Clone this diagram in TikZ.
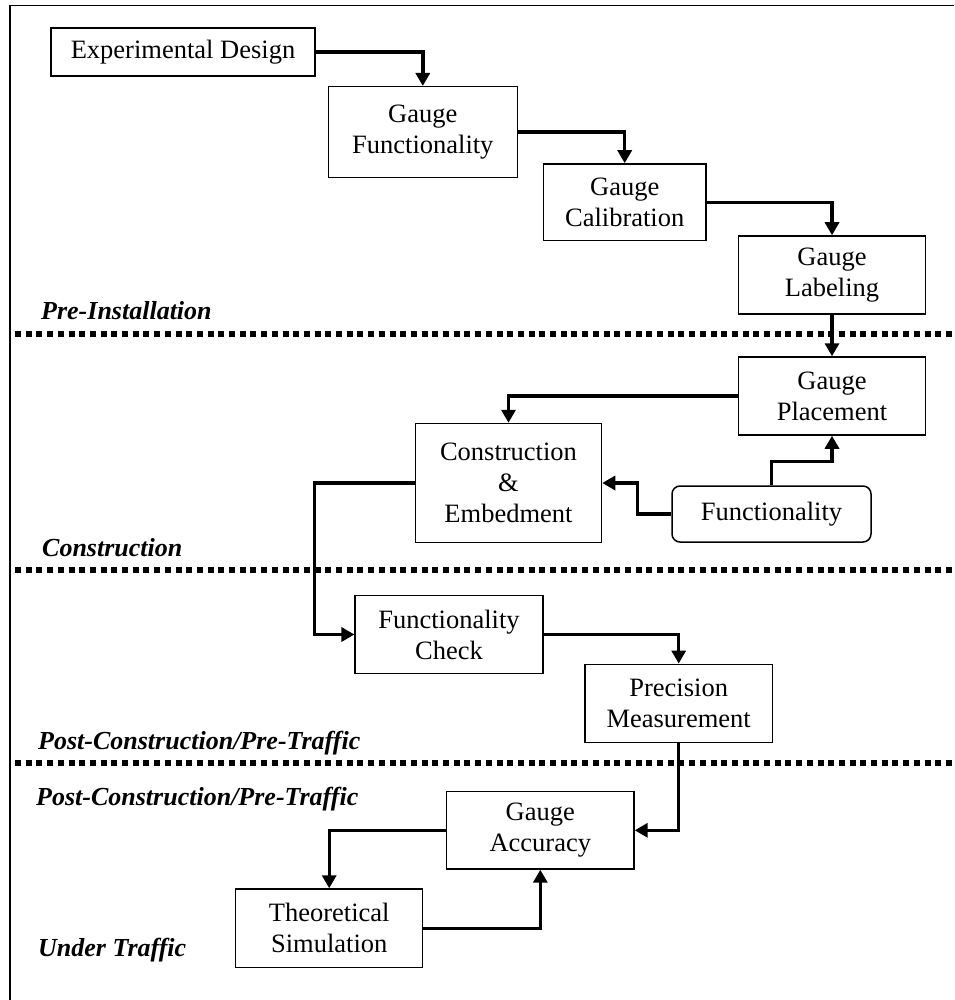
\documentclass[tikz,border=0pt]{standalone}
\usepackage{fontspec}
\setmainfont{Liberation Serif}
\usetikzlibrary{arrows.meta}
\tikzset{
  box/.style={draw, line width=1.5pt, inner sep=0pt, align=center,
    font=\fontsize{26.5}{31}\selectfont},
  rbox/.style={box, rounded corners=8pt},
  arr/.style={line width=3.4pt, -{Triangle[length=13pt,width=14pt]}},
  sep/.style={line width=5.5pt, dash pattern=on 6pt off 4.7pt},
  phase/.style={anchor=west, inner sep=0pt, font=\fontsize{26}{31}\selectfont\bfseries\itshape},
  frame/.style={line width=1.4pt}
}
\begin{document}
\begin{tikzpicture}[x=1pt,y=-1pt]
\useasboundingbox (0,0) rectangle (954,1000);
% frame
\coordinate (fbl) at (10,1000);
\coordinate (ftl) at (10,5.7);
\coordinate (ftr) at (954,5.7);
\draw[frame] (fbl) -- (ftl) -- (ftr);
% separators
\coordinate (s1a) at (15,334); \coordinate (s1b) at (954,334);
\coordinate (s2a) at (15,570); \coordinate (s2b) at (954,570);
\coordinate (s3a) at (15,763); \coordinate (s3b) at (954,763);
\draw[sep] (s1a) -- (s1b);
\draw[sep] (s2a) -- (s2b);
\draw[sep] (s3a) -- (s3b);
% phase labels
\node[phase] (l1) at (41,311) {Pre-Installation};
\node[phase] (l2) at (42,548) {Construction};
\node[phase] (l3) at (38,743) {Post-Construction/Pre-Traffic};
\node[phase] (l4) at (36,799) {Post-Construction/Pre-Traffic};
\node[phase] (l5) at (38,950) {Under Traffic};
% boxes
\node[box, minimum width=264pt, minimum height=48pt] (ed) at (183,52) {Experimental Design};
\node[box, minimum width=189pt, minimum height=90.6pt] (gf) at (422.8,132) {Gauge\\Functionality};
\node[box, minimum width=162.7pt, minimum height=76.7pt] (gc) at (624.7,202.3) {Gauge\\Calibration};
\node[box, minimum width=187pt, minimum height=78pt] (gl) at (832,275) {Gauge\\Labeling};
\node[box, minimum width=187pt, minimum height=78pt] (gp) at (832,396) {Gauge\\Placement};
\node[box, minimum width=186pt, minimum height=119pt] (ce) at (508.5,483) {Construction\\\&\\Embedment};
\node[rbox, minimum width=199pt, minimum height=56pt] (fn) at (771.5,514) {Functionality};
\node[box, minimum width=187.7pt, minimum height=77.6pt] (fc) at (449,634.5) {Functionality\\Check};
\node[box, minimum width=187.3pt, minimum height=78pt] (pm) at (678.7,703.3) {Precision\\Measurement};
\node[box, minimum width=187.3pt, minimum height=77.3pt] (ga) at (540.3,830.3) {Gauge\\Accuracy};
\node[box, minimum width=187pt, minimum height=78.3pt] (ts) at (329.2,928.2) {Theoretical\\Simulation};
% connectors
\draw[arr] (ed.east) -| (gf.north);
\draw[arr] (gf.east) -| (gc.north);
\draw[arr] (gc.east) -| (gl.north);
\draw[arr] (gl.south) -- (gp.north);
\draw[arr] (gp.west) -| (ce.north);
\draw[arr] (fn.north) -- ++(0,-24) -| (gp.south);
\draw[arr] (fn.west) -- ++(-34,0) |- (ce.east);
\draw[arr] (ce.west) -- ++(-100,0) |- (fc.west);
\draw[arr] (fc.east) -| (pm.north);
\draw[arr] (pm.south) |- (ga.east);
\draw[arr] (ga.west) -| (ts.north);
\draw[arr] (ts.east) -| (ga.south);
\end{tikzpicture}
\end{document}
